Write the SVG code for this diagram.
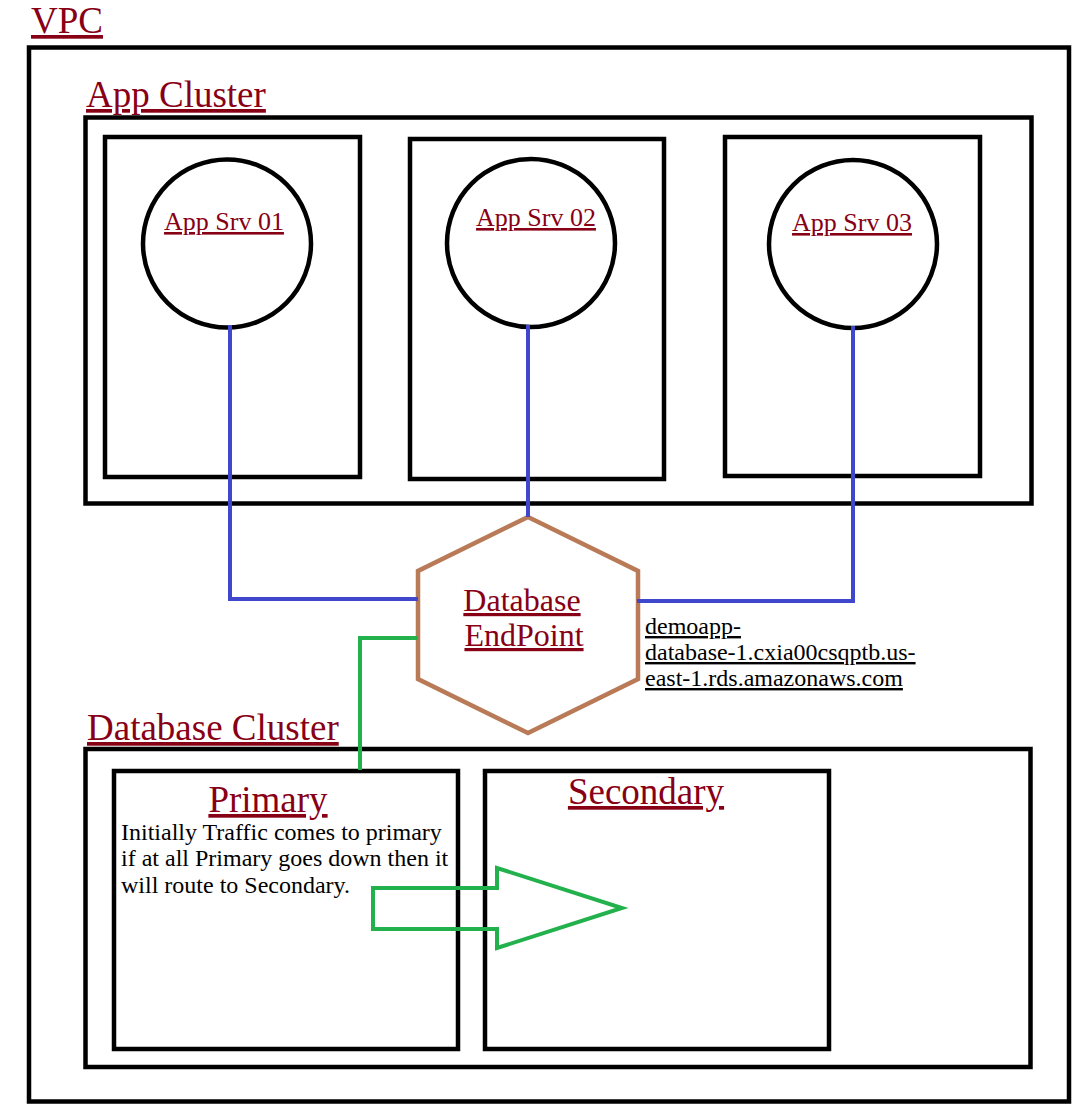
<svg xmlns="http://www.w3.org/2000/svg" width="1085" height="1118" viewBox="0 0 1085 1118">
<style>
.box{fill:none;stroke:#000;stroke-width:4.5}
.circ{fill:#fff;stroke:#000;stroke-width:4.5}
.lbl{font-family:"Liberation Serif","Times New Roman",serif;fill:#880015;text-decoration:underline}
.big{font-size:37px}
.srv{font-size:26px}
.blk{font-family:"Liberation Serif","Times New Roman",serif;fill:#000;font-size:24px}
.blue{fill:none;stroke:#3f48cc;stroke-width:4}
.green{fill:none;stroke:#22b14c;stroke-width:4}
</style>
<rect width="1085" height="1118" fill="#fff"/>
<g id="vpc">
<rect class="box" x="29" y="47.5" width="1040" height="1054"/>
<text class="lbl big" x="31" y="33">VPC</text>
</g>
<g id="app-cluster">
<rect class="box" x="85.5" y="117.5" width="946" height="386"/>
<text class="lbl big" x="86" y="107">App Cluster</text>
</g>
<g id="srv1">
<rect class="box" x="105" y="137" width="255" height="340"/>
<circle class="circ" cx="227" cy="243.5" r="84"/>
<text class="lbl srv" x="224" y="230" text-anchor="middle">App Srv 01</text>
</g>
<g id="srv2">
<rect class="box" x="410" y="139" width="254" height="340"/>
<circle class="circ" cx="531" cy="243" r="84"/>
<text class="lbl srv" x="536" y="226" text-anchor="middle">App Srv 02</text>
</g>
<g id="srv3">
<rect class="box" x="725" y="137" width="255" height="339"/>
<circle class="circ" cx="853" cy="244" r="84"/>
<text class="lbl srv" x="852" y="231" text-anchor="middle">App Srv 03</text>
</g>
<g id="endpoint">
<polygon points="528,517 638,571 638,679 528,733 418,679 418,571" fill="#fff" stroke="#b97a57" stroke-width="4.5"/>
<text class="lbl" font-size="32" x="522" y="611" text-anchor="middle">Database</text>
<text class="lbl" font-size="32" x="524" y="646" text-anchor="middle">EndPoint</text>
<text class="blk" x="645" y="634" text-decoration="underline">demoapp-</text>
<text class="blk" x="645" y="660" text-decoration="underline">database-1.cxia00csqptb.us-</text>
<text class="blk" x="645" y="686" text-decoration="underline">east-1.rds.amazonaws.com</text>
</g>
<g id="db-cluster">
<rect class="box" x="85.5" y="749" width="945" height="318"/>
<text class="lbl big" x="87" y="740">Database Cluster</text>
</g>
<g id="primary">
<rect class="box" x="114" y="771" width="344" height="278"/>
<text class="lbl big" x="268" y="812" text-anchor="middle">Primary</text>
<text class="blk" x="121" y="840">Initially Traffic comes to primary</text>
<text class="blk" x="121" y="866">if at all Primary goes down then it</text>
<text class="blk" x="121" y="893">will route to Secondary.</text>
</g>
<g id="secondary">
<rect class="box" x="485" y="771" width="344" height="278"/>
<text class="lbl big" x="646" y="804" text-anchor="middle">Secondary</text>
</g>
<g id="connectors">
<polyline class="blue" points="230,325 230,599 418,599"/>
<polyline class="blue" points="528,325 528,517"/>
<polyline class="blue" points="853,326 853,601 637,601"/>
<polyline class="green" points="418,638 360,638 360,770"/>
<polygon class="green" points="373,888 497,888 497,868 622,908 497,948 497,929 373,929"/>
</g>
</svg>
